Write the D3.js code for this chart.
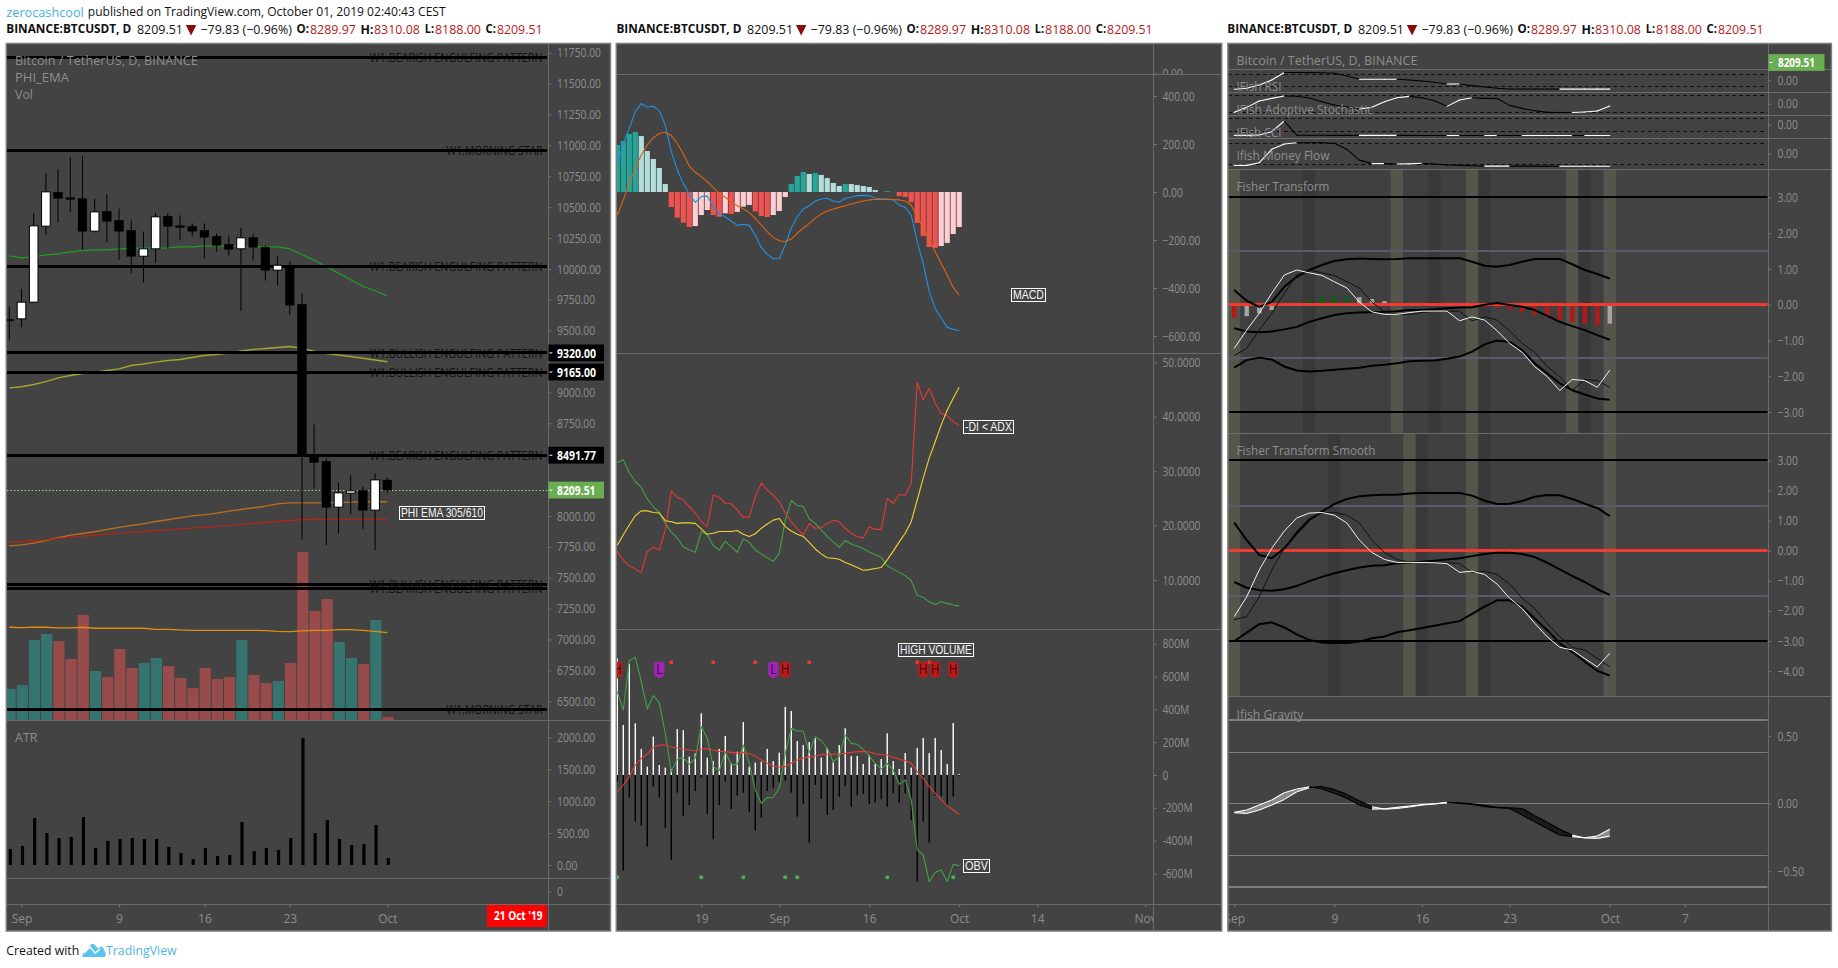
<!DOCTYPE html>
<html><head><meta charset="utf-8">
<script src="https://cdn.jsdelivr.net/npm/d3@7/dist/d3.min.js"></script>
<style>html,body{margin:0;padding:0;background:#fff}svg{display:block}text{font-family:"Open Sans",sans-serif}</style>
</head><body><svg id="c" width="1838" height="968"></svg>
<script>
// ---------- Price panel data (Aug 31 .. Oct 1, daily) ----------
const candleOpen=[9591,9596,9731,10346,10619,10576,10568,10306,10465,10392,10311,10103,10163,10425,10349,10344,10311,10263,10198,10163,10254,10176,9990,10022,9712,8497,8441,8071,8184,8206,8047,8289.97];
const candleClose=[9590,9731,10349,10624,10573,10565,10306,10462,10387,10306,10103,10163,10422,10346,10338,10306,10257,10192,10160,10252,10176,9990,10030,9707,8497,8435,8071,8187,8203,8047,8292,8209.51];
const candleHigh=[9693,9839,10454,10778,10805,10908,10918,10568,10603,10489,10392,10303,10454,10449,10433,10368,10368,10287,10271,10335,10287,10190,10101,10057,9801,8740,8470,8268,8328,8236,8344,8310.08];
const candleLow=[9429,9528,9723,10279,10379,10460,10157,10295,10214,10076,9963,9890,10052,10163,10233,10263,10084,10141,10109,9663,10068,9906,9866,9626,7809,8222,7761,7858,8012,7895,7723,8188];
const emaGreen=[10106,10090,10098,10114,10122,10138,10149,10155,10155,10163,10165,10168,10168,10171,10179,10179,10187,10187,10184,10182,10179,10179,10179,10163,10117,10071,10017,9966,9912,9860,9823,9782];
const emaYellow=[9037,9046,9064,9088,9118,9137,9153,9164,9178,9191,9218,9230,9245,9259,9267,9283,9299,9307,9319,9335,9348,9356,9364,9372,9356,9335,9315,9303,9291,9277,9263,9249];
const emaOrange=[7758,7766,7780,7801,7823,7845,7858,7872,7890,7907,7923,7936,7955,7969,7985,8001,8009,8023,8039,8052,8066,8079,8098,8106,8106,8106,8106,8109,8112,8115,8115,8115];
const emaRed=[7788,7793,7799,7807,7818,7828,7836,7845,7853,7861,7869,7874,7882,7888,7896,7901,7909,7915,7923,7931,7939,7947,7955,7963,7969,7971,7974,7974,7974,7974,7974,7974];
const volume=[18.5,20.8,47.6,51.2,47.0,36.3,62.5,29.2,25.6,42.3,31.0,33.9,36.9,32.1,25.0,19.0,31.0,24.4,25.6,47.6,26.8,22.0,23.2,33.9,100,64.9,72.0,46.4,36.9,33.3,59.5,1.8];
const volumeUp=[1,1,1,1,0,0,0,1,0,0,0,1,1,0,0,0,0,0,0,1,0,0,1,0,0,0,0,1,1,0,1,0];
const volumeMa=[55.2,55.0,55.2,55.2,54.8,54.8,55.2,54.6,54.6,54.6,54.6,54.6,54.0,54.0,53.6,53.4,53.4,53.4,53.4,53.4,53.4,53.2,52.8,52.6,53.0,53.4,53.4,53.8,53.8,53.4,52.8,52.0];
const atr=[251,298,736,501,423,438,752,266,376,407,423,407,407,282,188,94,266,141,157,673,219,266,235,423,1989,501,705,407,313,329,626,110];
const patternLevels=[11714,10960,10021,9320,9165,8491.77,7443,7414,6434];
const patternNames=["W1.BEARISH ENGULFING PATTERN","W1.MORNING STAR","W1.BEARISH ENGULFING PATTERN","W1.BULLISH ENGULFING PATTERN","W1.BULLISH ENGULFING PATTERN","W1.BEARISH ENGULFING PATTERN","W1.BULLISH ENGULFING PATTERN","W1.BEARISH ENGULFING PATTERN","W1.MORNING STAR"];
const priceTicks=[11750,11500,11250,11000,10750,10500,10250,10000,9750,9500,9000,8750,8000,7750,7500,7250,7000,6750,6500];
const atrTicks=[2000,1500,1000,500,0];
const time1Idx=[1,9,16,23,31];
const time1Lab=["Sep","9","16","23","Oct"];
const lastPrice=8209.51;
const levelTags=[9320,9165,8491.77];

// ---------- Middle panel data (Aug 5 .. Oct 1) ----------
const macdHist=[196,212,242,250,233,171,137.5,100,33,-62.5,
-107,-128,-146,-142,-96,-75,-96,-103,-89,-92,
-83,-61,-54,-81,-100,-104,-96,-79,-21,33,
67,83,75,79,71,58,37.5,25,33,33,
29,25,21,8,0,3,0,-17,-21,-42,
-129,-183,-229,-233,-225,-212,-175,-146];
const macdLine=[112,203,265,335,369,353,357,339,279,168,
92,36,-8,-43,-19,-17,-61,-92,-103,-121,
-139,-135,-139,-179,-231,-260,-278,-278,-221,-151,
-103,-71,-57,-37.5,-29,-26,-37.5,-43,-26,-22,
-15,-14,-15,-25,-29,-28,-33,-54,-64,-96,
-207,-297,-415,-485,-526,-564,-572,-578];
const macdSignal=[-96,-33,36,99,154,196,226,244,249,235,
203,158,108,82,64,43,18,-6,-22,-40,
-57,-71,-85,-110,-137,-165,-189,-203,-206,-196,
-172,-151,-131,-110,-92,-79,-71,-64,-57,-50,
-44,-37.5,-33,-31,-31,-31,-31,-33,-37.5,-54,
-103,-151,-200,-249,-297,-346,-397,-431];
const diMinus=[15.2,13.7,12.6,12.0,11.4,15.2,16.0,15.5,19.2,26.4,
25.2,24.7,23.5,22.3,20.7,19.8,25.6,25.2,24.1,24.0,
22.9,21.5,21.6,25.3,27.8,26.5,25.6,24.4,22.3,20.7,
19.4,18.3,20.4,19.5,19.6,20.4,21.0,20.7,19.5,18.6,
18.0,17.7,19.8,19.3,19.3,25.0,24.1,25.7,25.6,27.8,
46.3,43.1,45.2,42.5,40.6,40.2,39.1,38.4];
const diPlus=[31.6,32.1,29.7,28.1,27.0,24.9,23.5,22.4,20.4,18.8,
17.7,16.1,15.5,15.1,18.9,18.3,16.3,15.5,17.1,16.1,
15.1,17.6,16.9,15.5,14.8,14.1,13.4,14.9,21.0,24.6,
23.7,23.5,21.2,20.4,19.2,18.0,17.0,16.0,17.3,16.6,
16.2,15.8,15.1,14.7,14.2,12.6,12.0,11.4,10.8,9.9,
7.2,6.8,6.0,5.5,6.0,5.7,5.4,5.2];
const adx=[16.4,18.3,20.1,21.8,22.7,22.7,22.4,22.3,20.9,20.7,
20.4,20.5,20.5,20.4,19.4,18.4,18.6,18.9,18.9,18.9,
19.1,18.4,18.0,18.5,19.5,20.3,21.0,21.3,19.8,19.0,
18.4,18.0,16.9,15.7,14.8,14.1,14.0,13.8,13.2,12.8,
12.3,11.8,11.9,12.1,12.3,13.7,15.3,17.0,18.6,20.7,
24.7,28.7,32.4,35.4,38.5,41.2,43.4,45.4];
const obvUp=[711,305,677,315,159,51,234,61,45,37,
280,274,112,132,376,106,85,159,238,71,
142,323,51,75,81,159,85,136,415,390,
207,183,201,224,106,165,77,183,285,116,
116,67,122,67,98,254,85,37,134,45,
165,226,134,226,152,67,317,6];
const obvDown=[-41,-583,-138,-285,-309,-437,-71,-138,-321,-518,
-108,-248,-183,-98,-16,-238,-392,-183,-41,-207,
-126,-108,-224,-339,-260,-98,-77,-47,-35,-108,
-254,-177,-413,-61,-146,-244,-213,-132,-67,-193,
-126,-116,-177,-167,-148,-193,-112,-169,-112,-274,
-650,-285,-413,-126,-128,-183,-132,-8];
const obvLine=[508,396,697,717,569,402,484,441,254,20,
96,106,65,102,295,224,51,26,142,61,
65,183,71,-91,-173,-138,-136,-81,132,285,
268,268,136,234,209,163,81,112,244,193,
187,157,116,71,37,71,30,-57,-30,-152,
-457,-488,-650,-593,-579,-650,-545,-553];
const obvMa=[-102,-61,-10,61,102,128,169,181,183,171,
165,157,152,148,157,161,152,144,142,138,
132,138,130,116,91,71,55,49,51,71,
91,102,112,116,124,128,126,128,132,138,
142,144,140,128,124,122,108,96,88,71,
20,-20,-71,-112,-152,-187,-213,-240];
const redDots=[9,16,23,32,50,52];
const greenDots=[0,14,21,28,30,45,56];
const highMarks=[0,28,51,53,56];
const lowMarks=[7,26];
const macdTicks=[400,200,0,-200,-400,-600];
const dmiTicks=[50,40,30,20,10];
const obvTicks=[800,600,400,200,0,-200,-400,-600];
const time2Idx=[14,27,42,57,70,88];
const time2Lab=["19","Sep","16","Oct","14","Nov"];

// ---------- Right panel data (Sep 1 .. Oct 1) ----------
const ifishRsi=[-.75,-.667,-.389,.028,.65,.645,.64,.635,.583,.361,.083,.083,.083,.083,.028,-.056,-.167,-.306,-.306,-.444,-.556,-.667,-.722,-.725,-.728,-.731,-.734,-.734,-.734,-.734,-.734];
const ifishStoch=[-.52,-.22,.16,.32,.46,.45,.34,.12,-.08,-.20,-.32,-.22,.12,.36,.44,.36,.18,-.16,.22,.36,.32,.316,-.10,-.28,-.42,-.52,-.526,-.53,-.50,-.44,-.14];
const ifishCci=[-.842,-.842,-.816,-.553,.29,-.83,-.835,-.838,-.84,-.842,-.845,-.845,-.845,-.845,-.846,-.847,-.848,-.849,-.849,-.85,-.851,-.851,-.852,-.853,-.853,-.853,-.853,-.853,-.854,-.854,-.854];
const ifishMfi=[-.565,-.565,-.435,.21,.468,.532,.530,.528,.50,.21,-.31,-.48,-.478,-.50,-.49,-.46,-.50,-.55,-.555,-.58,-.60,-.60,-.60,-.601,-.602,-.603,-.604,-.604,-.604,-.604,-.604];
const fisherUpper=[.41,.11,-.06,.08,.50,.78,.97,1.11,1.22,1.27,1.29,1.28,1.27,1.28,1.30,1.30,1.30,1.30,1.30,1.20,1.09,1.06,1.11,1.20,1.28,1.28,1.28,1.13,.97,.86,.73];
const fisherBasis=[-.66,-.75,-.77,-.75,-.69,-.62,-.48,-.38,-.29,-.24,-.22,-.21,-.20,-.18,-.15,-.15,-.13,-.10,-.08,-.07,0,.05,-.01,-.06,-.15,-.31,-.48,-.60,-.71,-.85,-.98];
const fisherLower=[-1.76,-1.55,-1.48,-1.53,-1.73,-1.84,-1.87,-1.85,-1.82,-1.79,-1.76,-1.71,-1.68,-1.64,-1.58,-1.57,-1.56,-1.51,-1.45,-1.31,-1.11,-1.00,-1.04,-1.27,-1.64,-1.92,-2.20,-2.39,-2.51,-2.62,-2.66];
const fisherFast=[-1.22,-.71,-.24,.32,.83,.97,.89,.82,.64,.47,.07,-.20,-.27,-.27,-.22,-.18,-.18,-.18,-.45,-.34,-.43,-.73,-1.08,-1.33,-1.73,-2.01,-2.40,-2.09,-2.12,-2.31,-1.83];
const fisherTrig=[-1.42,-1.22,-.71,-.24,.32,.83,.97,.89,.82,.64,.47,.07,-.20,-.27,-.27,-.22,-.18,-.18,-.18,-.45,-.34,-.43,-.73,-1.08,-1.33,-1.73,-2.01,-2.40,-2.09,-2.12,-2.31];
const fisherHist=[-.36,-.32,-.24,-.15,0,.07,.15,.21,.24,.24,.21,.16,.10,.07,.04,.02,.02,.02,.02,0,-.07,-.08,-.13,-.20,-.28,-.35,-.42,-.48,-.53,-.58,-.53];
const fisherHistKind="rnnnnggggg" + "nnnrrrrrrr" + "rrrrrrrrrr" + "n";
const fisherBand="ommmmmdmmm" + "mmmommdmmo" + "dmmmmmmodm" + "o";
const smoothUpper=[.93,.35,-.14,-.25,.08,.58,1.02,1.30,1.55,1.72,1.81,1.84,1.86,1.86,1.90,1.92,1.92,1.92,1.92,1.83,1.66,1.55,1.56,1.65,1.79,1.85,1.84,1.72,1.56,1.42,1.15];
const smoothBasis=[-1.04,-1.23,-1.31,-1.33,-1.28,-1.17,-1.01,-.87,-.75,-.65,-.56,-.50,-.48,-.42,-.39,-.37,-.33,-.29,-.25,-.18,-.11,-.07,-.07,-.11,-.21,-.40,-.62,-.84,-1.04,-1.28,-1.47];
const smoothLower=[-3.01,-2.72,-2.44,-2.38,-2.55,-2.78,-2.97,-3.05,-3.07,-3.07,-3.02,-2.91,-2.85,-2.71,-2.64,-2.57,-2.49,-2.41,-2.34,-2.10,-1.86,-1.65,-1.65,-1.86,-2.25,-2.64,-3.08,-3.36,-3.69,-3.99,-4.15];
const smoothFast=[-2.19,-1.53,-.64,.08,.65,1.09,1.25,1.27,1.18,.92,.35,-.06,-.29,-.39,-.39,-.39,-.40,-.43,-.72,-.68,-.79,-1.11,-1.58,-1.92,-2.41,-2.86,-3.21,-3.30,-3.58,-3.86,-3.41];
const smoothTrig=[-2.29,-2.19,-1.53,-.64,.08,.65,1.09,1.25,1.27,1.18,.92,.35,-.06,-.29,-.39,-.39,-.39,-.40,-.43,-.72,-.68,-.79,-1.11,-1.58,-1.92,-2.41,-2.86,-3.21,-3.30,-3.58,-3.86];
const smoothBand="ommmmmmmdm" + "mmmmodmmmo" + "dmmmmmmmmm" + "o";
const gravityA=[-.064,-.047,-.010,.027,.081,.109,.126,.109,.077,.040,-.010,-.040,-.037,-.027,-.017,-.007,0,.010,.002,-.005,-.022,-.030,-.035,-.084,-.133,-.183,-.232,-.244,-.252,-.240,-.190];
const gravityB=[-.067,-.072,-.047,-.010,.032,.089,.119,.128,.106,.069,.022,-.022,-.040,-.035,-.025,-.010,-.002,.007,.007,0,-.012,-.027,-.030,-.035,-.089,-.138,-.190,-.232,-.254,-.257,-.240];
const gravityLevels=[.618,.382,0,-.382,-.618];
const fisherTicks=[3,2,1,0,-1,-2,-3];
const smoothTicks=[3,2,1,0,-1,-2,-3,-4];
const gravityTicks=[.5,0,-.5];
const time3Idx=[0,8,15,22,30,36];
const time3Lab=["Sep","9","16","23","Oct","7"];
const headerParts=["BINANCE:BTCUSDT, D","8209.51","\u221279.83 (\u22120.96%)","O:","8289.97","H:","8310.08","L:","8188.00","C:","8209.51"];

// ---------- drawing ----------
const svg=d3.select("#c");
const BG="#434343",EDGE="#7d7d7d",SEP="#6c6c6c",TXT="#8e8e8e";
const defs=svg.append("defs");let clipN=0;
function clip(x0,y0,x1,y1){const id="cl"+(clipN++);defs.append("clipPath").attr("id",id).append("rect").attr("x",x0).attr("y",y0).attr("width",x1-x0).attr("height",y1-y0);return "url(#"+id+")";}
function label(g,x,y,s,o={}){
  const t=g.append("text").text(s).attr("dominant-baseline","central").attr("font-size",o.size||12)
    .attr("fill",o.color||TXT).attr("font-weight",o.weight||400).attr("text-anchor",o.anchor||"start");
  if(o.font)t.style("font-family",o.font);
  let sx=o.sx||1;
  if(o.w){sx=o.w/t.node().getComputedTextLength();}
  t.attr("transform",`translate(${x},${y-.8}) scale(${sx},1)`);
  return t;
}
function panel(x0,x1,axisX,y0,y1,seps){
  svg.append("rect").attr("x",x0).attr("y",y0).attr("width",x1-x0).attr("height",y1-y0).attr("fill",BG);
  return {x0,x1,axisX,y0,y1,seps};
}
function panelFrame(p){
  const g=svg.append("g");
  p.seps.forEach(y=>g.append("line").attr("x1",p.x0).attr("x2",p.x1).attr("y1",Math.floor(y)+.5).attr("y2",Math.floor(y)+.5).attr("stroke",SEP).attr("stroke-width",1));
  const ax=Math.floor(p.axisX)+.5;
  g.append("line").attr("x1",ax).attr("x2",ax).attr("y1",p.y0).attr("y2",p.y1).attr("stroke",SEP);
  g.append("rect").attr("x",p.x0).attr("y",p.y0).attr("width",p.x1-p.x0).attr("height",p.y1-p.y0).attr("fill","none").attr("stroke",EDGE).attr("stroke-width",1.5);
}
function yAxis(p,scale,vals,fmt,lx,clipPath){
  const a=d3.axisRight(scale).tickValues(vals).tickFormat(fmt).tickSize(3).tickPadding(3);
  const outer=svg.append("g");
  if(clipPath)outer.attr("clip-path",clipPath);
  const g=outer.append("g").attr("transform",`translate(${p.axisX},0)`).call(a);
  g.select(".domain").remove();
  g.selectAll("line").attr("stroke","#777");
  g.selectAll("text").attr("fill",TXT).attr("font-size",12).style("font-family",'"Open Sans",sans-serif')
    .attr("transform","scale(.86,1)").attr("x",(lx-p.axisX)/.86).attr("dy",".34em");
}
function timeAxis(p,scale,idx,labs){
  const a=d3.axisBottom(scale).tickValues(idx).tickFormat((d,i)=>labs[i]).tickSize(3).tickPadding(3);
  const outer=svg.append("g").attr("clip-path",clip(p.x0,880,p.axisX,932));
  const g=outer.append("g").attr("transform","translate(0,904.3)").call(a);
  g.select(".domain").remove();
  g.selectAll("line").attr("stroke","#777");
  g.selectAll("text").attr("fill",TXT).attr("font-size",12).style("font-family",'"Open Sans",sans-serif').attr("y",10.5);
}
function plotLine(g,xs,ys,vals,color,w=1.1){
  g.append("path").datum(vals).attr("fill","none").attr("stroke",color).attr("stroke-width",w).attr("stroke-linejoin","round")
   .attr("d",d3.line().x((d,i)=>xs(i)).y(d=>ys(d)));
}
function boxLabel(x0,x1,yc,s){
  const h=13,xa=Math.round(x0)+.5,xb=Math.round(x1)+.5,ya=Math.round(yc-h/2)+.5;
  svg.append("rect").attr("x",xa).attr("y",ya).attr("width",xb-xa).attr("height",h).attr("fill",BG).attr("stroke","#fff").attr("stroke-width",1);
  label(svg,xa+1.5,ya+h/2+.8,s,{size:12,color:"#f4f4f4",font:'"Liberation Sans",sans-serif',w:xb-xa-3});
}
function tag(x0,x1,yc,fill,s,lx,w){
  svg.append("rect").attr("x",x0).attr("y",yc-8.4).attr("width",x1-x0).attr("height",16.8).attr("fill",fill);
  svg.append("line").attr("x1",x0+1).attr("x2",x0+4).attr("y1",yc).attr("y2",yc).attr("stroke","#fff");
  label(svg,lx,yc,s,{size:13,color:"#fff",weight:700,w:w});
}
const fp=d=>d.toFixed(2).replace("-","\u2212");
const snap=y=>Math.round(y-.5)+.5;

// ---- header ----
label(svg,6.3,12.3,"zerocashcool",{size:13,color:"#3fb2e6",w:77.5});
label(svg,87.8,12.3,"published on TradingView.com, October 01, 2019 02:40:43 CEST",{size:13,color:"#131313",w:358});
const headX=[0,130.7,194.2,290.2,303.7,354.3,367.7,418.4,428.7,479.3,490.7];
const headW=[125,46,91.5,12.5,46,13,46,9.5,46,10.5,45.5];
const headBold=[1,0,0,1,0,1,0,1,0,1,0];
const headRed=[0,0,0,0,1,0,1,0,1,0,1];
[6.3,616.4,1227.3].forEach(ox=>{
  headerParts.forEach((s,i)=>label(svg,ox+headX[i],29.4,s,{size:13,weight:headBold[i]?700:400,color:headRed[i]?"#b51a1a":"#111",w:headW[i]}));
  svg.append("path").attr("d",`M${ox+179.5} 25 h10.5 l-5.2 10.5 z`).attr("fill","#8b0b0b");
});

// ---- Panel 1 ----
const P1=panel(6.3,610.5,548.4,43.5,931,[720,878.3,904.3]);
const x1=d3.scaleLinear().domain([0,31]).range([9.3,387.3]);
const yP=d3.scaleLinear().domain([11750,6500]).range([52.8,701.2]);
const yV=d3.scaleLinear().domain([0,100]).range([720,552]);
const yA=d3.scaleLinear().domain([2000,0]).range([737.3,865]);
const g1=svg.append("g").attr("clip-path",clip(7,44,548,720));
g1.selectAll("rect.v").data(volume).join("rect").attr("x",(d,i)=>x1(i)+.8-5.6).attr("width",11.2).attr("y",d=>yV(d)).attr("height",d=>yV(0)-yV(d))
  .attr("fill",(d,i)=>volumeUp[i]?"#36746f":"#984b4b");
plotLine(g1,x1,yV,volumeMa,"#e08e0b",1.3);
plotLine(g1,x1,yP,emaGreen,"#1f9e1f",1.2);
plotLine(g1,x1,yP,emaYellow,"#a6a62c",1.4);
plotLine(g1,x1,yP,emaOrange,"#b86d1f",1.4);
plotLine(g1,x1,yP,emaRed,"#b0261a",1.3);
g1.append("line").attr("x1",7).attr("x2",548).attr("y1",snap(yP(lastPrice))).attr("y2",snap(yP(lastPrice))).attr("stroke","#9ccf8a").attr("stroke-dasharray","1.5 2").attr("stroke-width",1);
patternLevels.forEach((v,i)=>{
  label(g1,542.5,yP(v)+.8,patternNames[i],{size:12,color:"#111",anchor:"end",w:patternNames[i].length>20?173:96});
  g1.append("line").attr("x1",7).attr("x2",547).attr("y1",snap(yP(v))).attr("y2",snap(yP(v))).attr("stroke","#000").attr("stroke-width",3);
});
const cg=g1.append("g");
candleOpen.forEach((o,i)=>{
  const c=candleClose[i],up=c>o,top=yP(Math.max(o,c)),bot=yP(Math.min(o,c)),h=Math.max(bot-top,1.4);
  cg.append("line").attr("x1",x1(i)).attr("x2",x1(i)).attr("y1",yP(candleHigh[i])).attr("y2",yP(candleLow[i])).attr("stroke","#000").attr("stroke-width",1);
  cg.append("rect").attr("x",x1(i)-4.3).attr("width",8.6).attr("y",top).attr("height",h).attr("fill",up?"#fff":"#000").attr("stroke","#000").attr("stroke-width",up?1:.6);
});
const g1a=svg.append("g").attr("clip-path",clip(7,720,548,878));
g1a.selectAll("rect").data(atr).join("rect").attr("x",(d,i)=>x1(i)+1-1.6).attr("width",3.2).attr("y",d=>yA(d)).attr("height",d=>yA(0)-yA(d)).attr("fill","#000");
yAxis(P1,yP,priceTicks,d=>d.toFixed(2),557);
yAxis(P1,yA,atrTicks,d=>d.toFixed(2),557);
yAxis(P1,d3.scaleLinear().domain([0,1]).range([891.5,880]),[0],d=>"0",557);
timeAxis(P1,x1,time1Idx,time1Lab);
panelFrame(P1);
label(svg,15,60.7,"Bitcoin / TetherUS, D, BINANCE",{size:13,w:183});
label(svg,15,77.7,"PHI_EMA",{size:13,w:54});
label(svg,15,94.7,"Vol",{size:13,w:18});
label(svg,15,737.7,"ATR",{size:13,w:22.5});
levelTags.forEach(v=>tag(548.4,604,yP(v),"#000",v.toFixed(2),557,39));
tag(548.4,604,yP(lastPrice),"#6bad52",lastPrice.toFixed(2),557,38.5);
boxLabel(398.6,483.6,512,"PHI EMA 305/610");
svg.append("rect").attr("x",487).attr("y",905).attr("width",60).attr("height",22).attr("fill","#f00");
label(svg,494,915.8,"21 Oct '19",{size:13,weight:700,color:"#fff",w:48.6});

// ---- Panel 2 ----
const P2=panel(616.3,1221.7,1153.7,43.5,931,[74.3,353.3,629.3,904.3]);
const x2=d3.scaleLinear().domain([0,57]).range([617.3,959.2]);
const yM=d3.scaleLinear().domain([400,-600]).range([96,336]);
const yD=d3.scaleLinear().domain([50,10]).range([362.3,580]);
const yO=d3.scaleLinear().domain([800,-600]).range([643.8,873.4]);
const g2=svg.append("g").attr("clip-path",clip(617,44,1153.5,904));
g2.selectAll("rect.h").data(macdHist).join("rect").attr("x",(d,i)=>x2(i)-2.6).attr("width",5.2)
  .attr("y",d=>Math.min(yM(d),yM(0))).attr("height",d=>Math.abs(yM(d)-yM(0)))
  .attr("fill",(d,i)=>{const r=i===0||d>macdHist[i-1];return d>=0?(r?"#26a69a":"#b2dfdb"):(r?"#ffcdd2":"#ef5350");});
plotLine(g2,x2,yM,macdLine,"#2090e8",1.1);
plotLine(g2,x2,yM,macdSignal,"#e0640f",1.1);
plotLine(g2,x2,yD,diPlus,"#43a047",1.1);
plotLine(g2,x2,yD,diMinus,"#e53935",1.1);
plotLine(g2,x2,yD,adx,"#f2d32e",1.1);
g2.selectAll("rect.u").data(obvUp).join("rect").attr("x",(d,i)=>x2(i)-.7).attr("width",1.4).attr("y",d=>yO(d)).attr("height",d=>yO(0)-yO(d)).attr("fill","#fff");
g2.selectAll("rect.d").data(obvDown).join("rect").attr("x",(d,i)=>x2(i)-.7).attr("width",1.4).attr("y",yO(0)).attr("height",d=>yO(d)-yO(0)).attr("fill","#000");
plotLine(g2,x2,yO,obvLine,"#43a047",1.1);
plotLine(g2,x2,yO,obvMa,"#e53935",1.1);
g2.selectAll("circle.r").data(redDots).join("circle").attr("cx",d=>x2(d)).attr("cy",662.3).attr("r",2).attr("fill","#f0392b");
g2.selectAll("circle.g").data(greenDots).join("circle").attr("cx",d=>x2(d)).attr("cy",877.3).attr("r",2).attr("fill","#4caf50");
function marker(i,fill,ink,s){
  const cx=x2(i);
  g2.append("rect").attr("x",cx-5.2).attr("y",661.7).attr("width",10.4).attr("height",15).attr("rx",3).attr("fill",fill);
  g2.append("path").attr("d",`M${cx-4} 676 h8 l-4 2.6 z`).attr("fill",fill);
  label(g2,cx,669.5,s,{size:14,color:ink,anchor:"middle",sx:.85});
}
lowMarks.forEach(i=>marker(i,"#9c27b0","#3c0a47","L"));
highMarks.forEach(i=>marker(i,"#b71c1c","#4a0505","H"));
yAxis(P2,yM,macdTicks,fp,1162.4);
yAxis(P2,d3.scaleLinear().domain([0,1]).range([73.5,62]),[0],fp,1162.4,clip(1154,44,1222,74.3));
yAxis(P2,yD,dmiTicks,d=>d.toFixed(4),1162.4);
yAxis(P2,yO,obvTicks,d=>d===0?"0":d+"M",1162.4);
timeAxis(P2,x2,time2Idx,time2Lab);
panelFrame(P2);
boxLabel(1011.3,1044.6,294,"MACD");
boxLabel(963,1012.5,426,"-DI < ADX");
boxLabel(897.5,972.6,649,"HIGH VOLUME");
boxLabel(963,988.8,865,"OBV");

// ---- Panel 3 ----
const P3=panel(1227.9,1831.4,1768.4,43.5,931,[69.3,92.3,115.7,138.3,169.3,433.3,696.7,904.3]);
const x3=d3.scaleLinear().domain([0,30]).range([1234.2,1609.8]);
const dayW=12.52;
const bandCol={o:"#55554b",d:"#393939",m:"#404040"};
const gb=svg.append("g");
[...fisherBand].forEach((k,i)=>gb.append("rect").attr("x",x3(i)-dayW/2).attr("width",dayW).attr("y",169.8).attr("height",263).attr("fill",bandCol[k]));
[...smoothBand].forEach((k,i)=>gb.append("rect").attr("x",x3(i)-dayW/2).attr("width",dayW).attr("y",433.8).attr("height",263).attr("fill",bandCol[k]));
const g3=svg.append("g").attr("clip-path",clip(1228.5,44,1768,904));
function seg(g,xs,ys,vals,w=1.1){
  vals.forEach((v,i)=>{ if(!i)return;
    g.append("line").attr("x1",xs(i-1)).attr("x2",xs(i)).attr("y1",ys(vals[i-1])).attr("y2",ys(v))
      .attr("stroke",v>=vals[i-1]?"#fff":"#000").attr("stroke-width",w).attr("stroke-linecap","round");
  });
}
function hline(g,ys,v,c,w,dash){
  const y=w%2?snap(ys(v)):Math.round(ys(v));
  const l=g.append("line").attr("x1",1228).attr("x2",1767.5).attr("y1",y).attr("y2",y).attr("stroke",c).attr("stroke-width",w);
  if(dash)l.attr("stroke-dasharray",dash);
}
const ifishScales=[[80.3,12],[103.7,16.67],[124.7,12.67],[153.7,20.67]].map(([c,k])=>d3.scaleLinear().domain([1,-1]).range([c-k,c+k]));
const ifishData=[ifishRsi,ifishStoch,ifishCci,ifishMfi];
ifishData.forEach((vals,i)=>{
  const ys=ifishScales[i];
  hline(g3,ys,.5,"#111",1,"4 3");hline(g3,ys,-.5,"#111",1,"4 3");
  seg(g3,x3,ys,vals,1.1);
  yAxis(P3,ys,[0],fp,1777.5);
});
const yF=d3.scaleLinear().domain([3,-3]).range([197.4,412]);
hline(g3,yF,3,"#000",2);hline(g3,yF,-3,"#000",2);hline(g3,yF,1.5,"#5a5c6c",2);hline(g3,yF,-1.5,"#5a5c6c",2);
fisherHist.forEach((v,i)=>{
  const k=fisherHistKind[i];
  g3.append("rect").attr("x",x3(i)-2.2).attr("width",4.4).attr("y",Math.min(yF(v),yF(0))).attr("height",Math.abs(yF(v)-yF(0)))
    .attr("fill",k==="r"?"#b51818":k==="g"?"#0d5e1c":"#a5a5a5");
});
hline(g3,yF,0,"#f23b30",3);
plotLine(g3,x3,yF,fisherUpper,"#000",2);plotLine(g3,x3,yF,fisherBasis,"#000",2);plotLine(g3,x3,yF,fisherLower,"#000",2);
plotLine(g3,x3,yF,fisherTrig,"#111",1);plotLine(g3,x3,yF,fisherFast,"#f2f2f2",1);
const yS=d3.scaleLinear().domain([3,-4]).range([460.4,671.1]);
hline(g3,yS,3,"#000",2);hline(g3,yS,-3,"#000",2);hline(g3,yS,1.5,"#5a5c6c",2);hline(g3,yS,-1.5,"#5a5c6c",2);hline(g3,yS,0,"#f23b30",3);
plotLine(g3,x3,yS,smoothUpper,"#000",2);plotLine(g3,x3,yS,smoothBasis,"#000",2);plotLine(g3,x3,yS,smoothLower,"#000",2);
plotLine(g3,x3,yS,smoothTrig,"#111",1);plotLine(g3,x3,yS,smoothFast,"#f2f2f2",1);
const yG=d3.scaleLinear().domain([.5,-.5]).range([736.2,871.2]);
gravityLevels.forEach(v=>hline(g3,yG,v,"#7e7e7e",Math.abs(v)>.5?2:1));
gravityA.forEach((a,i)=>{ if(!i)return;
  const up=a>=gravityB[i],idx=[i-1,i];
  g3.append("path").datum(idx).attr("fill",up?"#8a8a8a":"#1a1a1a").attr("d",d3.area().x(d=>x3(d)).y0(d=>yG(gravityA[d])).y1(d=>yG(gravityB[d])));
  [gravityA,gravityB].forEach(arr=>g3.append("line").attr("x1",x3(i-1)).attr("x2",x3(i)).attr("y1",yG(arr[i-1])).attr("y2",yG(arr[i])).attr("stroke",up?"#fff":"#000").attr("stroke-width",1.1));
});
yAxis(P3,yF,fisherTicks,fp,1777.5);
yAxis(P3,yS,smoothTicks,fp,1777.5);
yAxis(P3,yG,gravityTicks,fp,1777.5);
timeAxis(P3,x3,time3Idx,time3Lab);
panelFrame(P3);
const legend3=[["Bitcoin / TetherUS, D, BINANCE",60.7,181],["IFish RSI",86.7,45],["IFish Adoptive Stochastic",110,136.5],["IFish CCI",132.7,45],["Ifish Money Flow",155.7,93],["Fisher Transform",186.7,93],["Fisher Transform Smooth",450.7,139],["Ifish Gravity",715,67]];
legend3.forEach(([s,y,w])=>label(svg,1236.5,y,s,{size:13,w}));
tag(1768.4,1824.5,62.5,"#6bad52",lastPrice.toFixed(2),1778,37);

// ---- footer ----
label(svg,6.3,950.7,"Created with",{size:13,color:"#111",w:73});
svg.append("path").attr("fill","#5ac4ec").attr("d","M82.5 957 q-.6-3.6 2.5-5 l6-7.5 q1.6-1.6 3.4 0 l3.6 4 2-1.4 q2-1 3.2 .8 l2.4 5 q.8 2.4 -.8 4.1 z");
svg.append("path").attr("fill","none").attr("stroke","#fff").attr("stroke-width",1.4).attr("d","M84 953 l6-6 5 6 5-4");
label(svg,106,950.7,"TradingView",{size:13,color:"#4fb6e3",w:70.7});
</script></body></html>
